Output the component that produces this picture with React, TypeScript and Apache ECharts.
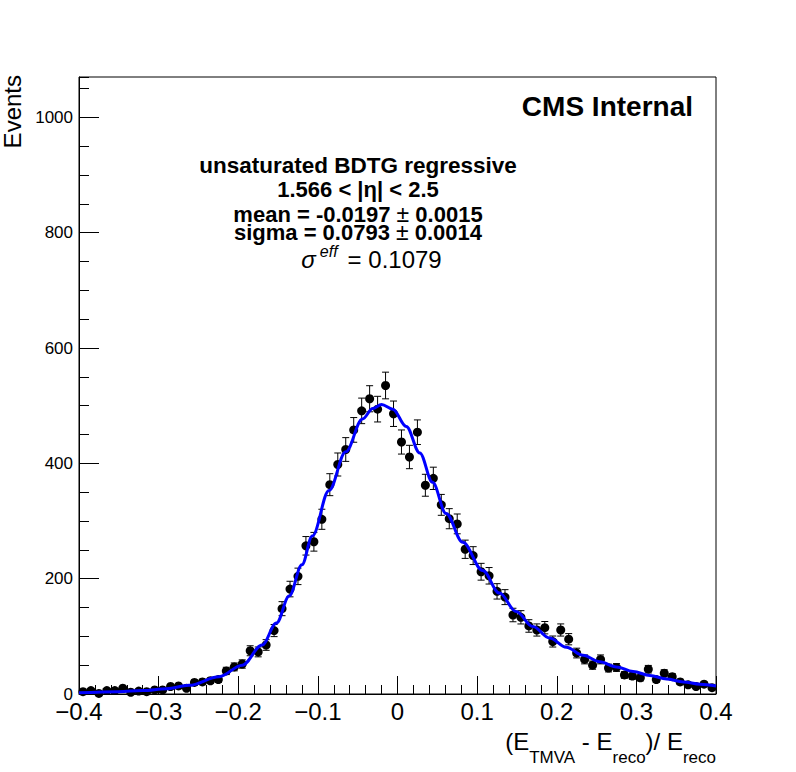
import React, { useEffect, useRef } from 'react'
import * as echarts from 'echarts'

// histogram: 80 bins from -0.4 to 0.4
const binLow = -0.4
const binWidth = 0.01
const counts = [
  4, 6, 1, 6, 6, 10, 3, 5, 4, 7, 7, 13, 14, 10, 20, 21, 23, 25, 40, 47,
  52, 75, 73, 85, 110, 148, 182, 204, 257, 264, 303, 363, 398, 424, 458, 491, 512, 494, 535, 486,
  437, 411, 454, 362, 374, 328, 304, 295, 251, 240, 212, 205, 178, 168, 137, 133, 118, 111, 115, 91,
  111, 95, 71, 60, 50, 60, 45, 46, 33, 31, 28, 43, 25, 36, 30, 21, 16, 13, 17, 11,
]

// fit curve
const fitX = [
  -0.4, -0.35, -0.32, -0.29, -0.262, -0.224, -0.195, -0.17, -0.152, -0.136, -0.12, -0.107,
  -0.086, -0.065, -0.044, -0.031, -0.02, -0.006, 0.011, 0.028, 0.044, 0.061, 0.082, 0.107,
  0.128, 0.149, 0.17, 0.191, 0.212, 0.233, 0.254, 0.275, 0.296, 0.317, 0.338, 0.359, 0.38, 0.4,
]
const fitY = [
  2, 4, 6, 9, 15, 30, 50, 85, 123, 170, 224, 274,
  353, 420, 477, 495, 502, 494, 464, 418, 367, 313, 263, 214,
  175, 143, 117, 97, 81, 67, 56, 47, 39, 32, 26, 21, 17, 14,
]

const infoLines = [
  'unsaturated BDTG regressive',
  '1.566 < |\u03b7| < 2.5',
  'mean = -0.0197 {n|\u00b1} 0.0015',
  'sigma = 0.0793 {n|\u00b1} 0.0014',
]
const infoY = [165, 189, 214, 232]
const infoSize = [22.5, 22, 22, 22]

const FONT = '"Liberation Sans", Arial, Helvetica, sans-serif'

export default function App() {
  const chartRef = useRef<HTMLDivElement>(null)

  useEffect(() => {
    if (!chartRef.current) return
    const chart = echarts.init(chartRef.current, undefined, { renderer: 'svg' })

    const points = counts.map((c, i) => [binLow + binWidth * (i + 0.5), c])
    const errs = counts.map((c, i) => [binLow + binWidth * (i + 0.5), c, Math.sqrt(c)])
    const fit = fitX.map((x, i) => [x, fitY[i]])

    const xLabel = (v: number) => {
      const r = Math.round(v * 10) / 10
      if (r === 0) return '0'
      return r < 0 ? '\u2212' + Math.abs(r) : String(r)
    }

    const txt = (text: string, x: number, y: number, size: number, bold: boolean, align = 'center') => ({
      type: 'text',
      x,
      y,
      style: {
        text,
        fontSize: size,
        fontWeight: bold ? 'bold' : 'normal',
        fontFamily: FONT,
        fill: '#000',
        lineHeight: 17,
        align,
        textAlign: align,
        verticalAlign: 'middle',
        textVerticalAlign: 'middle',
        rich: {
          n: { fontSize: size + 1, fontWeight: 'normal', fontFamily: FONT, fill: '#000', lineHeight: 17 },
        },
      },
    })

    const option: any = {
      animation: false,
      backgroundColor: '#fff',
      grid: {
        left: 79,
        top: 77,
        width: 637,
        height: 617,
        show: true,
        borderColor: '#000',
        borderWidth: 1,
        backgroundColor: 'transparent',
        outerBoundsMode: 'none',
      },
      xAxis: [
        {
          type: 'value',
          min: -0.4,
          max: 0.4,
          interval: 0.1,
          position: 'bottom',
          axisLine: { show: true, onZero: false, lineStyle: { color: '#000', width: 1 } },
          axisTick: { show: true, inside: true, length: 18, lineStyle: { color: '#000', width: 1 } },
          minorTick: { show: true, splitNumber: 5, length: 9, lineStyle: { color: '#000', width: 1 } },
          splitLine: { show: false },
          axisLabel: {
            formatter: xLabel,
            fontSize: 24,
            lineHeight: 19,
            fontFamily: FONT,
            color: '#000',
            margin: 7.5,
          },
        },
      ],
      yAxis: [
        {
          type: 'value',
          min: 0,
          max: 1070,
          interval: 200,
          position: 'left',
          axisLine: { show: true, onZero: false, lineStyle: { color: '#000', width: 1 } },
          axisTick: { show: true, inside: true, length: 20, lineStyle: { color: '#000', width: 1 } },
          splitLine: { show: false },
          axisLabel: {
            formatter: (v: number) => String(v),
            fontSize: 17,
            lineHeight: 13,
            fontFamily: FONT,
            color: '#000',
            margin: 6,
            showMaxLabel: false,
          },
        },
        {
          type: 'value',
          min: 0,
          max: 1070,
          interval: 50,
          position: 'left',
          axisLine: { show: false, onZero: false },
          axisTick: { show: true, inside: true, length: 10, lineStyle: { color: '#000', width: 1 } },
          splitLine: { show: false },
          axisLabel: { show: false },
        },
      ],
      series: [
        {
          type: 'custom',
          xAxisIndex: 0,
          yAxisIndex: 0,
          data: errs,
          clip: true,
          z: 1,
          renderItem: (params: any, api: any) => {
            const x = api.value(0)
            const y = api.value(1)
            const e = api.value(2)
            const top = api.coord([x, y + e])
            const bot = api.coord([x, y - e])
            const st = { stroke: '#000', lineWidth: 1 }
            return {
              type: 'group',
              children: [
                { type: 'line', shape: { x1: top[0], y1: top[1], x2: bot[0], y2: bot[1] }, style: st },
                { type: 'line', shape: { x1: top[0] - 3.5, y1: top[1], x2: top[0] + 3.5, y2: top[1] }, style: st },
                { type: 'line', shape: { x1: bot[0] - 3.5, y1: bot[1], x2: bot[0] + 3.5, y2: bot[1] }, style: st },
              ],
            }
          },
        },
        {
          type: 'scatter',
          data: points,
          symbol: 'circle',
          symbolSize: 9,
          itemStyle: { color: '#000', opacity: 1 },
          z: 2,
        },
        {
          type: 'line',
          data: fit,
          showSymbol: false,
          smooth: 0.35,
          smoothMonotone: 'x',
          lineStyle: { color: '#0000ff', width: 3 },
          z: 3,
        },
      ],
      graphic: [
        txt('CMS Internal', 693, 106, 28, true, 'right'),
        ...infoLines.map((t, i) => txt(t, 358, infoY[i], infoSize[i], true)),
        {
          type: 'text',
          x: 371.5,
          y: 243.5,
          style: {
            text: '{s|\u03c3}{e|eff}{m|= 0.1079}',
            fontFamily: FONT,
            fill: '#000',
            align: 'center',
            textAlign: 'center',
            verticalAlign: 'top',
            textVerticalAlign: 'top',
            rich: {
              s: { fontSize: 24, fontStyle: 'italic', fontFamily: FONT, padding: [4, 0, 0, 0], verticalAlign: 'top' },
              e: { fontSize: 16, fontStyle: 'italic', fontFamily: FONT, padding: [0, 0, 0, 4], verticalAlign: 'top' },
              m: { fontSize: 24, fontFamily: FONT, padding: [4, 0, 0, 10], verticalAlign: 'top' },
            },
          },
        },
        {
          type: 'text',
          x: 716,
          y: 729,
          style: {
            text: '{m|(E}{s|TMVA}{m| - E}{s|reco}{m|)/ E}{s|reco}',
            fontFamily: FONT,
            fill: '#000',
            align: 'right',
            textAlign: 'right',
            verticalAlign: 'top',
            textVerticalAlign: 'top',
            rich: {
              m: { fontSize: 24, fontFamily: FONT, verticalAlign: 'top' },
              s: { fontSize: 17, fontFamily: FONT, padding: [20, 0, 0, 0], verticalAlign: 'top' },
            },
          },
        },
        {
          type: 'text',
          x: 12.5,
          y: 75,
          rotation: Math.PI / 2,
          style: {
            text: 'Events',
            fontSize: 24,
            fontFamily: FONT,
            fill: '#000',
            align: 'right',
            textAlign: 'right',
            verticalAlign: 'middle',
            textVerticalAlign: 'middle',
          },
        },
      ],
    }

    chart.setOption(option)
    return () => {
      chart.dispose()
    }
  }, [])

  return (
    <div
      ref={chartRef}
      style={{ position: 'absolute', left: 0, top: 0, width: 796, height: 772 }}
    />
  )
}
